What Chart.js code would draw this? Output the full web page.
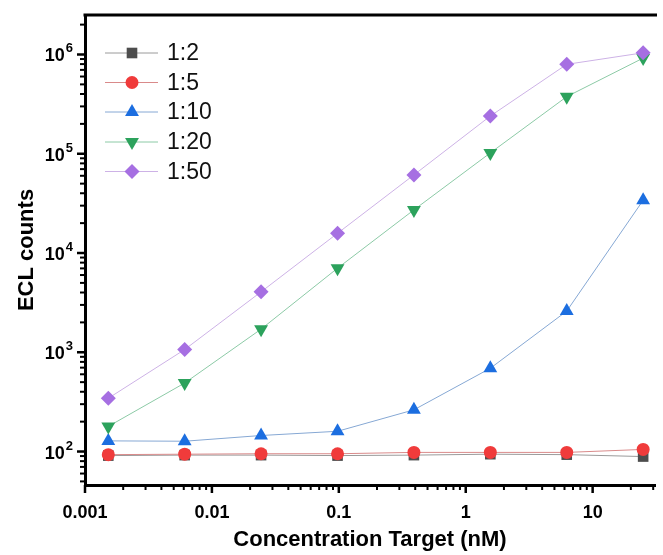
<!DOCTYPE html>
<html>
<head>
<meta charset="utf-8">
<script src="https://cdn.jsdelivr.net/npm/chart.js@4/dist/chart.umd.min.js"></script>
<style>
html,body{margin:0;padding:0;background:#fff;}
#wrap{width:663px;height:555px;position:relative;}
</style>
</head>
<body>
<div id="wrap"><canvas id="c" width="663" height="555"></canvas></div>
<script>
// ---- data ----
const concentrations = [0.001526, 0.0061, 0.0244, 0.0977, 0.3906, 1.5625, 6.25, 25];
const seriesNames = ['1:2', '1:5', '1:10', '1:20', '1:50'];
const s1_2  = [91, 92, 92, 91, 92, 94, 93, 89];
const s1_5  = [93, 94, 95, 95, 98, 98, 98, 105];
const s1_10 = [128, 127, 145, 160, 263, 690, 2600, 34000];
const s1_20 = [179, 490, 1710, 7030, 27200, 102000, 376000, 920000];
const s1_50 = [344, 1065, 4060, 15800, 61200, 240000, 796000, 1040000];
const xTickValues = [0.001, 0.01, 0.1, 1, 10];
const xTickLabels = ['0.001', '0.01', '0.1', '1', '10'];
const yTickValues = [100, 1000, 10000, 100000, 1000000];
const yTickBase = '10';
const yTickExponents = ['2', '3', '4', '5', '6'];

const styles = [
  {marker:'#4d4d4d', line:'#9a9a9a', style:'rect', r:7.5, rot:0},
  {marker:'#f03b3b', line:'#d98a8a', style:'circle', r:6.5, rot:0},
  {marker:'#1c6ee0', line:'#86a8d4', style:'triangle', r:8, rot:0},
  {marker:'#2ca25c', line:'#8ccaa6', style:'triangle', r:8, rot:180},
  {marker:'#a66fe2', line:'#cdb2e6', style:'rectRot', r:7.5, rot:0}
];
const allSeries = [s1_2, s1_5, s1_10, s1_20, s1_50];

const datasets = allSeries.map((vals, i) => ({
  label: seriesNames[i],
  data: vals.map((v, j) => ({x: concentrations[j], y: v})),
  borderColor: styles[i].line,
  backgroundColor: styles[i].marker,
  pointBackgroundColor: styles[i].marker,
  pointBorderColor: styles[i].marker,
  pointBorderWidth: 0,
  pointStyle: styles[i].style,
  pointRadius: styles[i].r,
  pointHoverRadius: styles[i].r,
  pointRotation: styles[i].rot,
  borderWidth: 1,
  showLine: true,
  tension: 0,
  order: 5 - i
}));

const FONT = "'Liberation Sans', Arial, sans-serif";

const decor = {
  id: 'decor',
  afterDatasetsDraw(chart) {
    const ctx = chart.ctx;
    const xs = chart.scales.x, ys = chart.scales.y;
    const a = chart.chartArea;
    ctx.save();
    ctx.strokeStyle = '#000';
    // top frame
    ctx.lineWidth = 3;
    ctx.beginPath();
    ctx.moveTo(a.left - 1.5, a.top);
    ctx.lineTo(a.right + 2, a.top);
    ctx.stroke();
    // x ticks
    for (let d = -3; d <= 1; d++) {
      for (let m = 1; m <= 9; m++) {
        const v = m * Math.pow(10, d);
        if (v < xs.min || v > xs.max) continue;
        const px = xs.getPixelForValue(v);
        const major = m === 1;
        ctx.lineWidth = major ? 2.5 : 2;
        ctx.beginPath();
        ctx.moveTo(px, a.bottom);
        ctx.lineTo(px, a.bottom + (major ? 8 : 5));
        ctx.stroke();
      }
    }
    // y ticks
    for (let d = 1; d <= 6; d++) {
      for (let m = 1; m <= 9; m++) {
        const v = m * Math.pow(10, d);
        if (v < ys.min || v > ys.max) continue;
        const py = ys.getPixelForValue(v);
        const major = m === 1;
        ctx.lineWidth = major ? 2.5 : 2;
        ctx.beginPath();
        ctx.moveTo(a.left, py);
        ctx.lineTo(a.left - (major ? 8 : 5), py);
        ctx.stroke();
      }
    }
    // y tick labels (10 with superscript exponent)
    ctx.fillStyle = '#000';
    ctx.textAlign = 'right';
    ctx.textBaseline = 'alphabetic';
    yTickValues.forEach((v, i) => {
      const py = ys.getPixelForValue(v);
      const right = a.left - 12;
      ctx.font = 'bold 13px ' + FONT;
      const ew = ctx.measureText(yTickExponents[i]).width;
      ctx.fillText(yTickExponents[i], right, py - 2);
      ctx.font = 'bold 18px ' + FONT;
      ctx.fillText(yTickBase, right - ew - 1, py + 7);
    });
    // legend
    const lx0 = 105, lx1 = 158, mx = 132, tx = 167;
    const ly = [53, 82.5, 112, 142, 171.5];
    chart.data.datasets.forEach((ds, i) => {
      const y = ly[i];
      ctx.strokeStyle = ds.borderColor;
      ctx.lineWidth = 1;
      ctx.beginPath();
      ctx.moveTo(lx0, y); ctx.lineTo(lx1, y); ctx.stroke();
      ctx.fillStyle = ds.pointBackgroundColor;
      ctx.strokeStyle = ds.pointBackgroundColor;
      Chart.helpers.drawPoint(ctx, {pointStyle: ds.pointStyle, radius: ds.pointRadius, rotation: ds.pointRotation, borderWidth: 0}, mx, y);
      ctx.fillStyle = '#111';
      ctx.font = '23px ' + FONT;
      ctx.textBaseline = 'middle';
      ctx.textAlign = 'left';
      ctx.fillText(ds.label, tx, y + 1);
    });
    ctx.restore();
  }
};

new Chart(document.getElementById('c'), {
  type: 'scatter',
  data: { datasets },
  options: {
    responsive: false,
    animation: false,
    devicePixelRatio: 1,
    layout: { padding: { top: 15, right: 0, left: 0, bottom: 0 } },
    plugins: { legend: { display: false }, tooltip: { enabled: false } },
    scales: {
      x: {
        type: 'logarithmic',
        position: 'bottom',
        min: 0.001,
        max: 31,
        afterFit(s) { s.height = 70; },
        afterBuildTicks(s) { s.ticks = xTickValues.map(v => ({value: v})); },
        grid: { display: true, drawOnChartArea: false, drawTicks: false },
        border: { display: true, width: 3, color: '#000' },
        ticks: {
          autoSkip: false, maxRotation: 0, padding: 17, color: '#000',
          font: { family: FONT, size: 18, weight: 'bold' },
          callback(v) { const i = xTickValues.indexOf(v); return i >= 0 ? xTickLabels[i] : ''; }
        },
        title: {
          display: true, text: 'Concentration Target (nM)', color: '#000',
          font: { family: FONT, size: 22, weight: 'bold' },
          padding: { top: 2, bottom: 2 }
        }
      },
      y: {
        type: 'logarithmic',
        position: 'left',
        min: 46,
        max: 2500000,
        afterFit(s) { s.width = 85; },
        afterBuildTicks(s) { s.ticks = yTickValues.map(v => ({value: v})); },
        grid: { display: true, drawOnChartArea: false, drawTicks: false },
        border: { display: true, width: 3, color: '#000' },
        ticks: { display: false },
        title: {
          display: true, text: 'ECL counts', color: '#000',
          font: { family: FONT, size: 22, weight: 'bold' },
          padding: { top: 14, bottom: 4 }
        }
      }
    }
  },
  plugins: [decor]
});
</script>
</body>
</html>
